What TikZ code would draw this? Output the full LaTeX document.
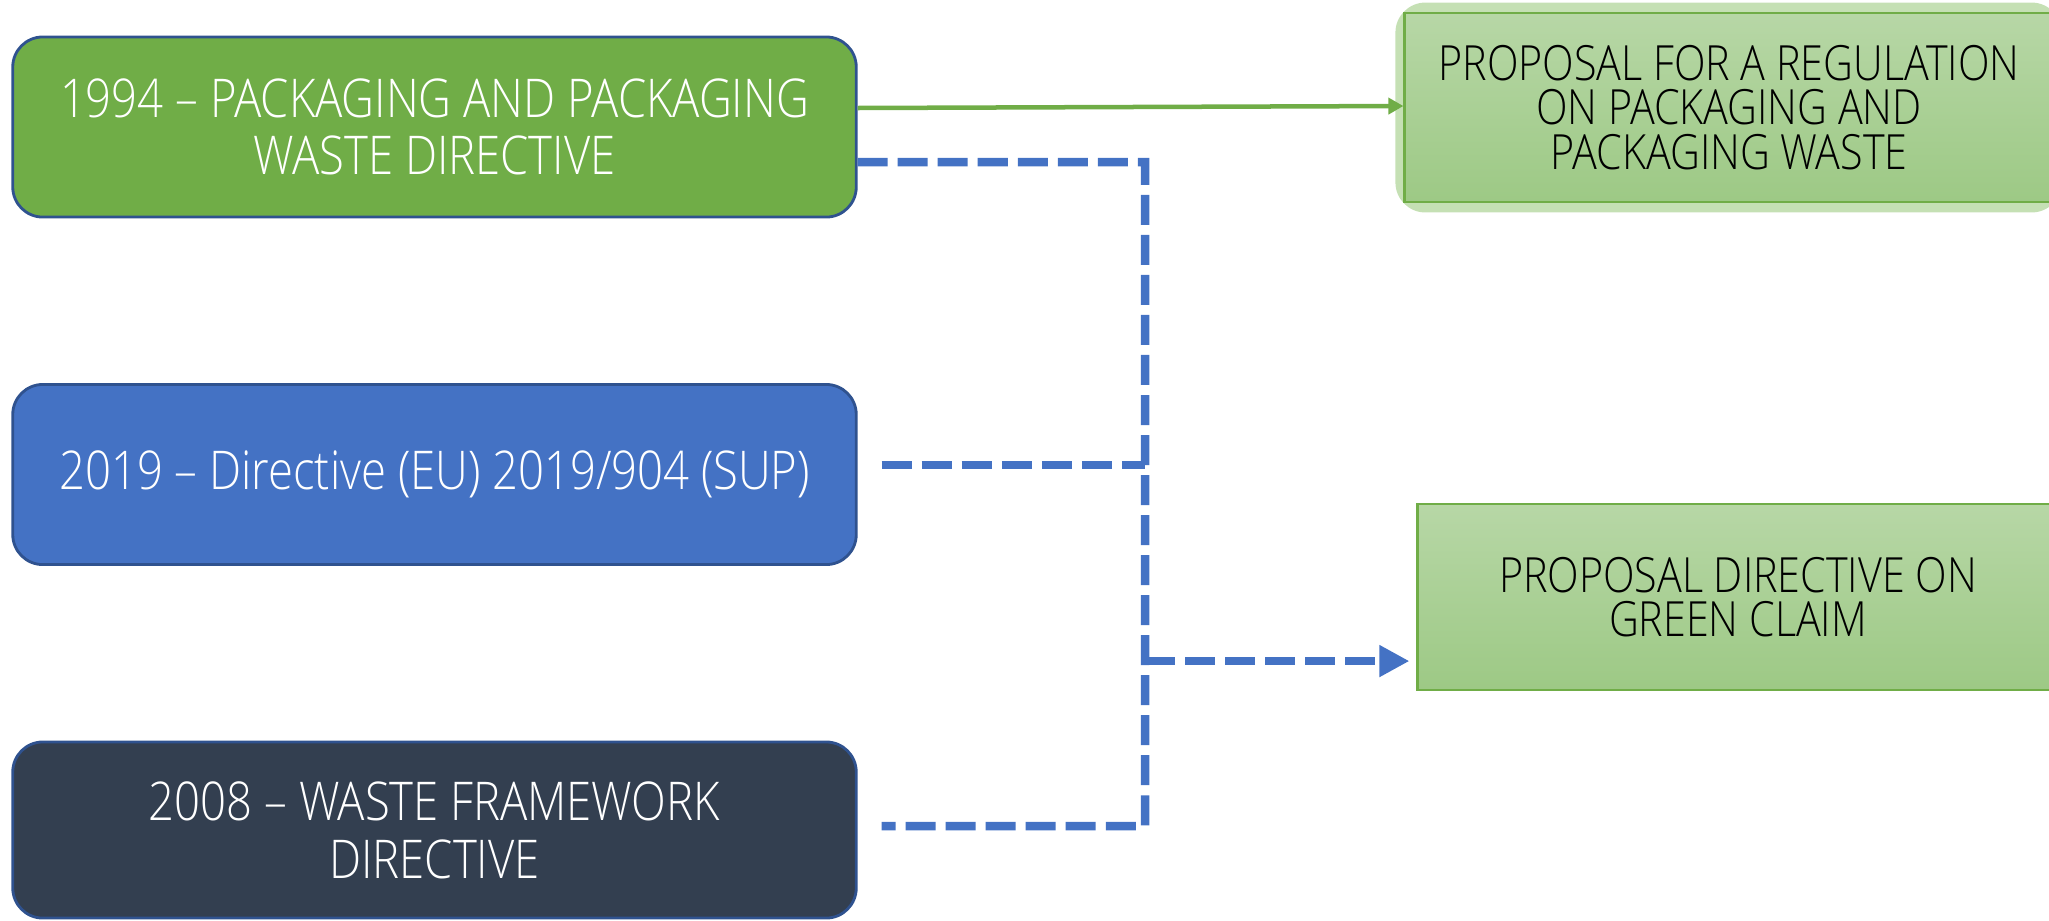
\documentclass[tikz,border=0pt]{standalone}
\usepackage{fontspec}
\setmainfont{Open Sans}[UprightFont={* Light}, FakeStretch=0.85]
\usetikzlibrary{arrows.meta,positioning,backgrounds}
\definecolor{dfgreen}{RGB}{112,173,71}
\definecolor{dfblue}{RGB}{68,114,196}
\definecolor{dfnavy}{RGB}{51,63,80}
\definecolor{dfoutline}{RGB}{47,82,143}
\definecolor{dfpaletop}{RGB}{183,215,166}
\definecolor{dfpalebot}{RGB}{157,201,133}
\definecolor{dfglow}{RGB}{197,224,180}
\tikzstyle{directive} = [rectangle, rounded corners=0.3cm, minimum width=8.43cm, minimum height=1.8cm, inner sep=0pt, align=center, text=white, draw=dfoutline, line width=0.8pt, font=\fontsize{15.2}{16.4}\selectfont]
\tikzstyle{proposal} = [rectangle, minimum width=6.45cm, minimum height=1.88cm, inner sep=0pt, align=center, text=black, draw=dfgreen, line width=0.8pt, top color=dfpaletop, bottom color=dfpalebot, font=\fontsize{13.8}{12.7}\selectfont]
\tikzstyle{arrow} = [line width=0.045cm, -{Triangle[length=0.15cm,width=0.16cm]}, color=dfgreen]
\tikzstyle{dashlink} = [line width=0.085cm, dash pattern=on 0.3cm off 0.1cm, color=dfblue]
\tikzstyle{dasharrow} = [dashlink, -{Triangle[length=0.3cm,width=0.3cm]}, shorten >=0.07cm]

\begin{document}
\begin{tikzpicture}[x=0.01cm, y=-0.01cm]
\useasboundingbox (0,0) rectangle (2049,920);
% directives on the left
\node (pack94) [directive, fill=dfgreen] at (434.5,127) {1994 – PACKAGING AND PACKAGING\\WASTE DIRECTIVE};
\node (sup19) [directive, fill=dfblue] at (434.5,474.5) {2019 – Directive (EU) 2019/904 (SUP)};
\node (wfd08) [directive, fill=dfnavy, minimum height=1.76cm] at (434.5,830) {2008 – WASTE FRAMEWORK\\DIRECTIVE};

% proposals on the right
\node (ppwr) [proposal, minimum width=6.48cm, minimum height=1.89cm] at (1729,107.5) {PROPOSAL FOR A REGULATION\\ON PACKAGING AND\\PACKAGING WASTE};
\node (claims) [proposal, minimum width=6.4cm, minimum height=1.86cm] at (1738,597) {PROPOSAL DIRECTIVE ON\\GREEN CLAIM};
\begin{scope}[on background layer]
\fill[dfglow, rounded corners=0.3cm] ([shift={(-0.08cm,0.09cm)}]ppwr.north west) rectangle ([shift={(0.07cm,-0.09cm)}]ppwr.south east);
\end{scope}

\coordinate (trunk) at (1145,826);
\coordinate (tip) at ([yshift=-0.64cm]claims.west);

\draw[arrow] ([yshift=0.19cm]pack94.east) -- ([yshift=0.015cm]ppwr.west);
\draw[dashlink] ([yshift=-0.35cm]pack94.east) -| (trunk) -- ([xshift=0.24cm,yshift=0.04cm]wfd08.east);
\draw[dashlink] ([xshift=0.24cm,yshift=0.095cm]sup19.east) -- ([yshift=0.095cm]sup19.east -| trunk);
\draw[dasharrow] (tip -| trunk) -- (tip);
\end{tikzpicture}
\end{document}
